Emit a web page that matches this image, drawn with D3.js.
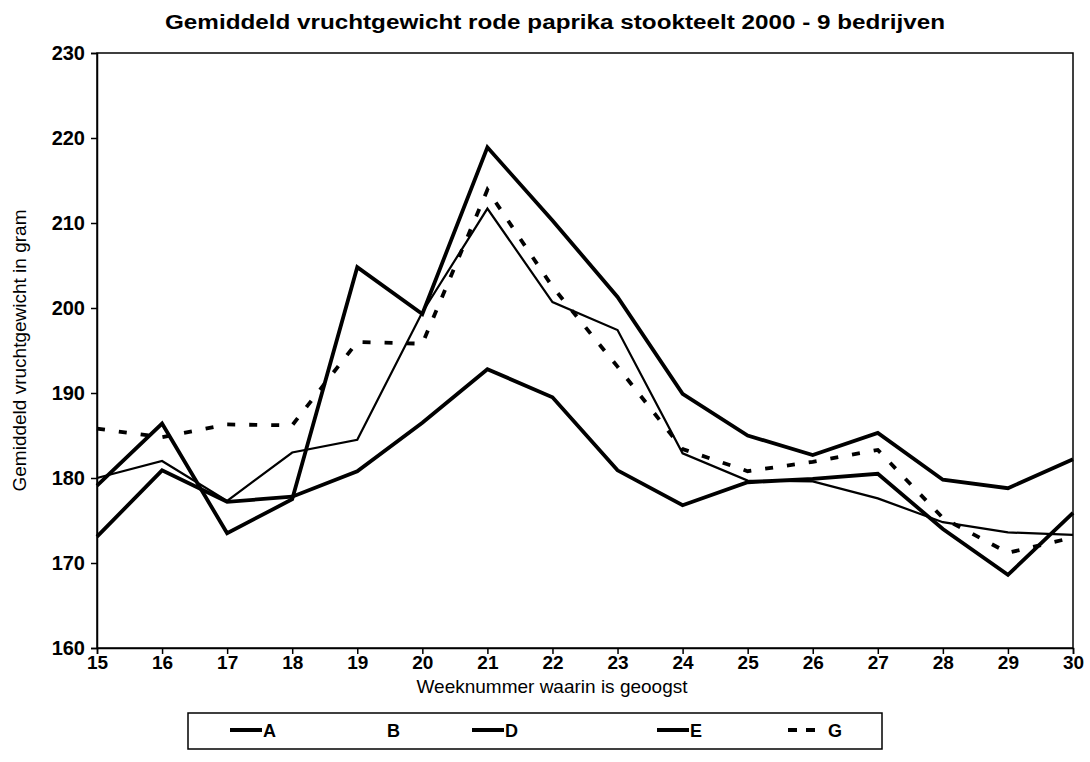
<!DOCTYPE html>
<html>
<head>
<meta charset="utf-8">
<script src="https://cdnjs.cloudflare.com/ajax/libs/d3/7.8.5/d3.min.js"></script>
<style>
  body { margin: 0; background: #fff; }
  svg { display: block; font-family: "Liberation Sans", Arial, sans-serif; }
</style>
</head>
<body>
<svg id="chart" width="1090" height="762"></svg>
<script>
// week numbers on the x axis
const weeks = [15, 16, 17, 18, 19, 20, 21, 22, 23, 24, 25, 26, 27, 28, 29, 30]
const yTicks = [160, 170, 180, 190, 200, 210, 220, 230]

// average fruit weight per company (gram)
const serieA = [179.1, 186.4, 173.5, 177.5, 204.8, 199.3, 218.9, 210.3, 201.3, 189.9, 185.0, 182.7, 185.3, 179.8, 178.8, 182.2]
const serieD = [180.0, 182.0, 177.3, 183.0, 184.5, 199.5, 211.7, 200.7, 197.4, 182.9, 179.7, 179.6, 177.6, 174.8, 173.6, 173.3]
const serieE = [173.1, 180.9, 177.2, 177.8, 180.8, 186.5, 192.8, 189.5, 180.9, 176.8, 179.5, 179.9, 180.5, 174.0, 168.6, 175.9]
const serieG = [185.8, 184.8, 186.3, 186.2, 196.0, 195.8, 213.9, 202.5, 193.1, 183.4, 180.8, 181.9, 183.3, 175.3, 171.2, 173.0]

const series = [
    {name: 'A', values: serieA, width: 3.8, dash: null},
    {name: 'D', values: serieD, width: 2.2, dash: null},
    {name: 'E', values: serieE, width: 3.8, dash: null},
    {name: 'G', values: serieG, width: 3.8, dash: '8,14'}
]

// legend entries (B prints without a visible line)
const legendItems = [
    {name: 'A', x: 230, dash: null, show: true},
    {name: 'B', x: 354, dash: null, show: false},
    {name: 'D', x: 472, dash: null, show: true},
    {name: 'E', x: 657, dash: null, show: true},
    {name: 'G', x: 788, dash: '9,9', show: true}
]

const svg = d3.select('#chart')

const mLeft = 97, mRight = 1073, mTop = 53, mBottom = 648

const x = d3.scaleLinear().domain([15, 30]).range([mLeft, mRight])
const y = d3.scaleLinear().domain([160, 230]).range([mBottom, mTop])

svg.append('text')
.attr('x', 555)
.attr('y', 29)
.attr('text-anchor', 'middle')
.attr('font-size', 20)
.attr('font-weight', 'bold')
.attr('textLength', 780)
.attr('lengthAdjust', 'spacingAndGlyphs')
.text('Gemiddeld vruchtgewicht rode paprika stookteelt 2000 - 9 bedrijven')

// frame
svg.append('rect')
.attr('x', mLeft)
.attr('y', mTop)
.attr('width', mRight - mLeft)
.attr('height', mBottom - mTop)
.attr('fill', 'none')
.attr('stroke', 'black')
.attr('stroke-width', 1.5)

let yAxis = svg.append('g')
.attr('transform', `translate(${mLeft},0)`)
.call(d3.axisLeft(y).tickValues(yTicks).tickSize(6).tickPadding(6))

let xAxis = svg.append('g')
.attr('transform', `translate(0,${mBottom})`)
.call(d3.axisBottom(x).tickValues(weeks).tickSize(6).tickPadding(2))

yAxis.selectAll('text').attr('font-size', 20).attr('font-weight', 'bold').attr('font-family', 'Liberation Sans, Arial, sans-serif')
xAxis.selectAll('text').attr('font-size', 19).attr('font-weight', 'bold').attr('font-family', 'Liberation Sans, Arial, sans-serif')
svg.selectAll('.domain').attr('stroke-width', 1.5)
svg.selectAll('.tick line').attr('stroke-width', 1.5)

svg.append('text')
.attr('x', 552)
.attr('y', 693)
.attr('text-anchor', 'middle')
.attr('font-size', 19)
.text('Weeknummer waarin is geoogst')

svg.append('text')
.attr('transform', `translate(26,${(mTop + mBottom) / 2}) rotate(-90)`)
.attr('text-anchor', 'middle')
.attr('font-size', 19)
.text('Gemiddeld vruchtgewicht in gram')

const line = d3.line()
.x((d, i) => x(weeks[i]))
.y((d) => y(d))

svg.selectAll('path.serie')
.data(series)
.enter()
.append('path')
.attr('class', 'serie')
.attr('d', (d) => line(d.values))
.attr('fill', 'none')
.attr('stroke', 'black')
.attr('stroke-width', (d) => d.width)
.attr('stroke-linejoin', 'miter')
.attr('stroke-dasharray', (d) => d.dash)

// legend
let legend = svg.append('g')

legend.append('rect')
.attr('x', 188)
.attr('y', 713)
.attr('width', 694)
.attr('height', 36)
.attr('fill', 'white')
.attr('stroke', 'black')
.attr('stroke-width', 1.5)

legend.selectAll('line.legendLine')
.data(legendItems.filter((d) => d.show))
.enter()
.append('line')
.attr('class', 'legendLine')
.attr('x1', (d) => d.x)
.attr('x2', (d) => d.x + 32)
.attr('y1', 730)
.attr('y2', 730)
.attr('stroke', 'black')
.attr('stroke-width', 4)
.attr('stroke-dasharray', (d) => d.dash)

legend.selectAll('text.legendText')
.data(legendItems)
.enter()
.append('text')
.attr('class', 'legendText')
.attr('x', (d) => d.name == 'G' ? d.x + 40 : d.x + 33)
.attr('y', 737)
.attr('font-size', 18)
.attr('font-weight', 'bold')
.text((d) => d.name)
</script>
</body>
</html>
